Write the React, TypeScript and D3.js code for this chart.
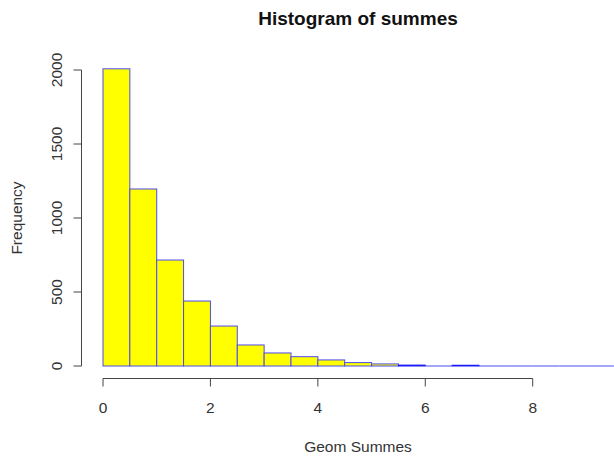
import React, { useEffect, useRef } from "react";
import * as d3 from "d3";

// histogram of summes, bins of 0.5
const binEdges = [0, 0.5, 1, 1.5, 2, 2.5, 3, 3.5, 4, 4.5, 5, 5.5, 6, 6.5, 7, 7.5, 8, 8.5, 9, 9.5, 10];
const counts = [2008, 1196, 716, 439, 270, 142, 88, 63, 41, 23, 14, 6, 0, 5, 0, 0, 0, 0, 0, 0];
const xTicks = [0, 2, 4, 6, 8];
const yTicks = [0, 500, 1000, 1500, 2000];

const App = () => {
  const ref = useRef<SVGSVGElement | null>(null);

  useEffect(() => {
    const svg = d3.select(ref.current);
    svg.selectAll("*").remove();

    const x = d3.scaleLinear().domain([0, 8]).range([103, 532.7]);
    const y = d3.scaleLinear().domain([0, 2000]).range([366, 70]);
    const font = "'Liberation Sans', Arial, sans-serif";
    const barStroke = "#4b4bf5";

    const bins = counts.map((c, i) => ({ x0: binEdges[i], x1: binEdges[i + 1], c }));

    svg
      .append("g")
      .selectAll("rect")
      .data(bins.filter((d) => d.c > 0))
      .join("rect")
      .attr("x", (d) => x(d.x0))
      .attr("y", (d) => y(d.c))
      .attr("width", (d) => x(d.x1) - x(d.x0))
      .attr("height", (d) => y(0) - y(d.c))
      .style("fill", "yellow")
      .style("stroke", (d) => (d.c < 10 ? "#1a1aff" : barStroke))
      .style("stroke-width", 1);

    // empty bins show up as a flat line on the baseline
    svg
      .append("g")
      .selectAll("line")
      .data(bins.filter((d) => d.c === 0))
      .join("line")
      .attr("x1", (d) => x(d.x0))
      .attr("x2", (d) => x(d.x1))
      .attr("y1", y(0))
      .attr("y2", y(0))
      .style("stroke", barStroke)
      .style("stroke-width", 1);

    // x axis
    const xa = svg.append("g").style("stroke", "#444").style("stroke-width", 1);
    xa.append("line")
      .attr("x1", x(0)).attr("x2", x(8))
      .attr("y1", 378.5).attr("y2", 378.5);
    xTicks.forEach((t) => {
      xa.append("line")
        .attr("x1", x(t)).attr("x2", x(t))
        .attr("y1", 378.5).attr("y2", 386.5);
      svg.append("text")
        .attr("x", x(t)).attr("y", 412.5)
        .attr("text-anchor", "middle")
        .style("font-family", font).style("font-size", "15.5px").style("fill", "#333")
        .text(t);
    });

    // y axis
    const ya = svg.append("g").style("stroke", "#444").style("stroke-width", 1);
    ya.append("line")
      .attr("x1", 81.5).attr("x2", 81.5)
      .attr("y1", y(0)).attr("y2", y(2000));
    yTicks.forEach((t) => {
      ya.append("line")
        .attr("x1", 73.5).attr("x2", 81.5)
        .attr("y1", y(t)).attr("y2", y(t));
      svg.append("text")
        .attr("transform", `translate(61.5,${y(t)}) rotate(-90)`)
        .attr("text-anchor", "middle")
        .style("font-family", font).style("font-size", "15.5px").style("fill", "#333")
        .text(t);
    });

    svg.append("text")
      .attr("x", 358).attr("y", 25)
      .attr("text-anchor", "middle")
      .style("font-family", font).style("font-size", "19px").style("font-weight", "bold")
      .style("fill", "#111")
      .text("Histogram of summes");

    svg.append("text")
      .attr("x", 358).attr("y", 451.5)
      .attr("text-anchor", "middle")
      .style("font-family", font).style("font-size", "15.5px").style("fill", "#333")
      .text("Geom Summes");

    svg.append("text")
      .attr("transform", `translate(21.5,218) rotate(-90)`)
      .attr("text-anchor", "middle")
      .style("font-family", font).style("font-size", "15.5px").style("fill", "#333")
      .text("Frequency");
  }, []);

  return (
    <svg
      ref={ref}
      width={614}
      height={459}
      style={{ position: "absolute", left: 0, top: 0, background: "white" }}
    />
  );
};

export default App;
